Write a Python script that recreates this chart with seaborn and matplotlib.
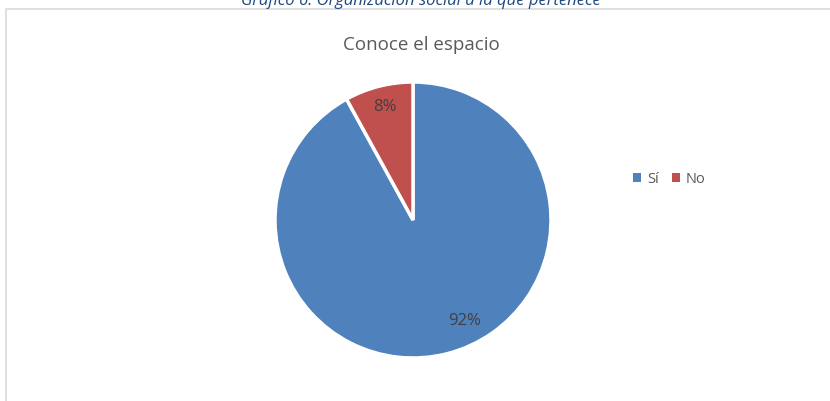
import matplotlib
matplotlib.use("Agg")
import matplotlib.pyplot as plt
import seaborn as sns
from matplotlib.patches import Patch

categories = ["Sí", "No"]
values = [92, 8]
colors = ["#4F81BD", "#C0504D"]

sns.set_theme(style="white")
plt.rcParams['font.family'] = ['Open Sans', 'DejaVu Sans']

W, H = 830, 402

fig = plt.figure(figsize=(8.3, 4.02), dpi=100)
ax = fig.add_axes([0, 0, 1, 1])

# pie in pixel-like coordinates (y measured from the bottom)
wedges, texts, autotexts = ax.pie(values, colors=colors, startangle=90, counterclock=False,
                                  radius=138, center=(413, H - 221), autopct='%1.0f%%',
                                  pctdistance=0.84, frame=True,
                                  wedgeprops=dict(edgecolor='white', linewidth=2.5),
                                  textprops=dict(fontsize=12, color="#404040"))
autotexts[0].set_position((465, H - 321))
autotexts[1].set_position((385, H - 107))

ax.set_xlim(0, W)
ax.set_ylim(0, H)
ax.set_aspect('equal')
ax.axis('off')

# chart frame (left and top edges only visible)
ax.plot([5.5, 5.5, W], [0, H - 9.5, H - 9.5], color="#D9D9D9", linewidth=1.2)

# caption cut off at the top
ax.text(421, H - 1, "Gráfico 6: Organización social a la que pertenece", ha='center', va='center',
        fontsize=12, style='italic', color="#1F497D")

ax.text(421, H - 45, "Conoce el espacio", ha='center', va='center', fontsize=13.5, color="#595959")

handles = [Patch(facecolor=c, edgecolor='none') for c in colors]
ax.legend(handles, categories, loc='center left', bbox_to_anchor=(620 / W, 1 - 180 / H),
          ncol=2, frameon=False, fontsize=10.5, handlelength=0.55, handleheight=0.55,
          handletextpad=0.4, columnspacing=0.9, labelcolor="#595959")

fig.savefig("out.png", dpi=100)
plt.close()
